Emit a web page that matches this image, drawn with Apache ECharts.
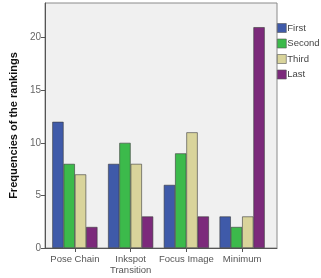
<!DOCTYPE html>
<html><head><meta charset="utf-8">
<script src="https://cdn.jsdelivr.net/npm/echarts@6/dist/echarts.min.js"></script>
<style>html,body{margin:0;padding:0;background:#fff}#c{width:321px;height:278px}</style>
</head><body><div id="c"></div>
<script>
const categories = ['Pose Chain', 'Inkspot\nTransition', 'Focus Image', 'Minimum'];
const seriesNames = ['First', 'Second', 'Third', 'Last'];
const first = [12, 8, 6, 3];
const second = [8, 10, 9, 2];
const third = [7, 8, 11, 3];
const last = [2, 3, 3, 21];
const yTicks = [0, 5, 10, 15, 20];
const colors = ['#3f5aa9', '#3cba4b', '#d9d49b', '#7c2a7b'];
const values = [first, second, third, last];

const chart = echarts.init(document.getElementById('c'), null, {renderer: 'canvas'});
const YMAX = 23.3;
const font = 'Liberation Sans, Arial, sans-serif';
chart.setOption({
  animation: false,
  textStyle: {fontFamily: font},
  legend: {
    data: seriesNames,
    orient: 'vertical',
    left: 275, top: 21, width: 46,
    padding: [2, 0, 2, 2],
    itemWidth: 9, itemHeight: 9, itemGap: 5.5,
    icon: 'rect',
    textStyle: {fontSize: 9.5, color: '#444', fontFamily: font, padding: [0, 0, 0, -4], overflow: 'none'},
    itemStyle: {borderColor: '#555', borderWidth: 0.6}
  },
  grid: [
    {left: 40, top: 3, width: 237, height: 245, show: true, backgroundColor: '#f0f0f0', borderColor: '#8a8a8a', borderWidth: 1, containLabel: false},
    {left: 47, top: 3, width: 223, height: 245, containLabel: false}
  ],
  xAxis: [
    {type: 'category', gridIndex: 0, data: [''], axisLine: {show: true, lineStyle: {color: '#555'}}, axisTick: {show: false}, axisLabel: {show: false}},
    {type: 'category', gridIndex: 1, data: categories,
      axisLine: {show: false},
      axisTick: {show: true, alignWithLabel: true, length: 4, lineStyle: {color: '#555'}},
      axisLabel: {interval: 0, fontSize: 9.5, color: '#555', margin: 6, lineHeight: 11, fontFamily: font}}
  ],
  yAxis: [
    {type: 'value', gridIndex: 0, min: 0, max: YMAX, interval: 5,
      name: 'Frequencies of the rankings', nameLocation: 'middle', nameGap: 25,
      nameTextStyle: {fontSize: 11, fontWeight: 'bold', color: '#111', fontFamily: font},
      axisLine: {show: true, lineStyle: {color: '#555'}},
      axisTick: {show: true, length: 4, lineStyle: {color: '#555'}},
      axisLabel: {fontSize: 10, color: '#666', margin: 4, showMaxLabel: false, fontFamily: font,
        formatter: v => yTicks.includes(v) ? String(v) : ''},
      splitLine: {show: false}},
    {type: 'value', gridIndex: 1, min: 0, max: YMAX, interval: 5, show: false, splitLine: {show: false}}
  ],
  series: seriesNames.map((n, i) => ({
    name: n, type: 'bar', xAxisIndex: 1, yAxisIndex: 1,
    data: values[i], barGap: '0%', barCategoryGap: '19%',
    itemStyle: {color: colors[i], borderColor: '#3a3a3a', borderWidth: 0.6}
  }))
});
</script></body></html>
